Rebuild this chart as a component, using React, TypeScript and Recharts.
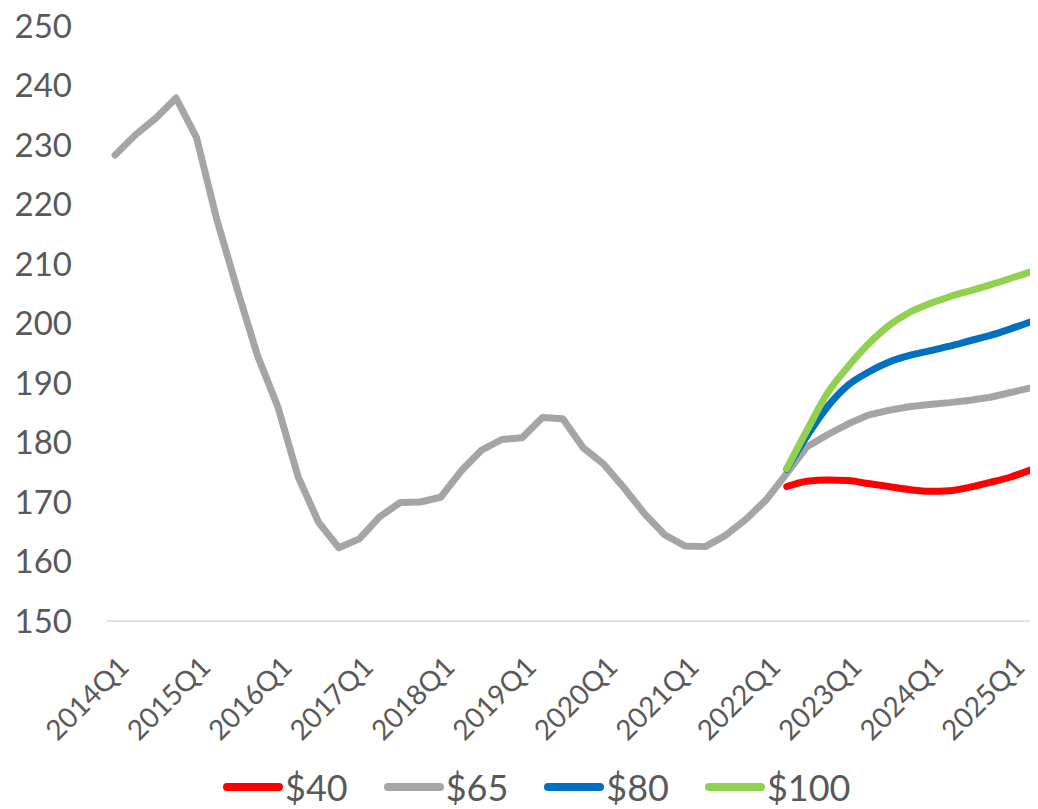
import { LineChart, Line, XAxis, YAxis, Legend } from "recharts";

const quarters = [
  "2014Q1", "2014Q2", "2014Q3", "2014Q4",
  "2015Q1", "2015Q2", "2015Q3", "2015Q4",
  "2016Q1", "2016Q2", "2016Q3", "2016Q4",
  "2017Q1", "2017Q2", "2017Q3", "2017Q4",
  "2018Q1", "2018Q2", "2018Q3", "2018Q4",
  "2019Q1", "2019Q2", "2019Q3", "2019Q4",
  "2020Q1", "2020Q2", "2020Q3", "2020Q4",
  "2021Q1", "2021Q2", "2021Q3", "2021Q4",
  "2022Q1", "2022Q2", "2022Q3", "2022Q4",
  "2023Q1", "2023Q2", "2023Q3", "2023Q4",
  "2024Q1", "2024Q2", "2024Q3", "2024Q4",
  "2025Q1", "2025Q2",
];

// history + the $65 path
const price65 = [
  228.3, 231.7, 234.5, 237.9, 231.3, 217.5, 205.8, 194.6,
  186.0, 174.2, 166.6, 162.3, 163.8, 167.5, 169.9, 170.0,
  170.8, 175.2, 178.7, 180.5, 180.8, 184.2, 184.0, 179.1,
  176.4, 172.4, 168.1, 164.5, 162.6, 162.5, 164.4, 167.1,
  170.4, 174.8, 179.3, 181.3, 183.1, 184.6, 185.4, 186.0,
  186.4, 186.7, 187.1, 187.6, 188.4, 189.2,
];

// scenarios start at 2022Q2
const FORECAST_START = 33;
const price40 = [172.6, 173.5, 173.7, 173.6, 173.1, 172.6, 172.1, 171.8, 171.9, 172.5, 173.3, 174.2, 175.4];
const price80 = [175.5, 181.1, 186.0, 189.6, 191.8, 193.5, 194.6, 195.4, 196.2, 197.1, 198.0, 199.1, 200.3];
const price100 = [175.6, 182.1, 188.3, 192.7, 196.5, 199.6, 201.8, 203.3, 204.5, 205.5, 206.5, 207.6, 208.7];

const yTicks = [150, 160, 170, 180, 190, 200, 210, 220, 230, 240, 250];

const FONT = "Lato, 'Open Sans', sans-serif";
const TEXT = "#595959";

const legendItems = [
  { name: "$40", color: "#FF0000" },
  { name: "$65", color: "#A5A5A5" },
  { name: "$80", color: "#0070C0" },
  { name: "$100", color: "#92D050" },
];

const scenario = (arr: number[], i: number) =>
  i >= FORECAST_START ? arr[i - FORECAST_START] : null;

const data = quarters.map((q, i) => ({
  q,
  p65: price65[i],
  p40: scenario(price40, i),
  p80: scenario(price80, i),
  p100: scenario(price100, i),
}));

function QuarterTick({ x, y, payload }: any) {
  return (
    <g transform={`translate(${x},${y})`}>
      <text
        x={8}
        y={38}
        textAnchor="end"
        dominantBaseline="central"
        transform="rotate(-45 8 38)"
        fill={TEXT}
        fontSize={28}
        fontFamily={FONT}
      >
        {payload.value}
      </text>
    </g>
  );
}

function LegendRow() {
  return (
    <div style={{ height: 56, display: "flex", paddingLeft: 215, paddingTop: 15, boxSizing: "border-box", fontFamily: FONT }}>
      {legendItems.map((it) => (
        <div key={it.name} style={{ display: "flex", alignItems: "center", marginRight: 36, whiteSpace: "nowrap", height: 38 }}>
          <svg width={60} height={12} style={{ marginRight: 2 }}>
            <line x1={4} y1={6} x2={56} y2={6} stroke={it.color} strokeWidth={8} strokeLinecap="round" />
          </svg>
          <span style={{ fontSize: 36, color: TEXT, lineHeight: "38px" }}>{it.name}</span>
        </div>
      ))}
    </div>
  );
}

export default function App() {
  return (
    <div style={{ marginTop: -8 }}>
      <LineChart width={1030} height={809} data={data} margin={{ top: 26, right: 0, left: 0, bottom: 0 }}>
        <XAxis
          dataKey="q"
          interval={3}
          padding={{ left: 8, right: 7 }}
          axisLine={{ stroke: "#D9D9D9", strokeWidth: 1.5 }}
          tickLine={false}
          tickSize={0}
          height={132}
          tick={<QuarterTick />}
        />
        <YAxis
          domain={[150, 250]}
          ticks={yTicks}
          width={99}
          axisLine={false}
          tickLine={false}
          tickSize={0}
          tickMargin={35}
          tick={{ fill: TEXT, fontSize: 33, fontFamily: FONT }}
        />
        <Legend verticalAlign="bottom" align="left" content={() => <LegendRow />} />
        <Line type="linear" dataKey="p65" stroke="#A5A5A5" strokeWidth={7} dot={false} activeDot={false} strokeLinecap="round" strokeLinejoin="round" isAnimationActive={false} />
        <Line type="monotone" dataKey="p40" stroke="#FF0000" strokeWidth={7} dot={false} activeDot={false} strokeLinecap="round" isAnimationActive={false} />
        <Line type="monotone" dataKey="p80" stroke="#0070C0" strokeWidth={7} dot={false} activeDot={false} strokeLinecap="round" isAnimationActive={false} />
        <Line type="monotone" dataKey="p100" stroke="#92D050" strokeWidth={7} dot={false} activeDot={false} strokeLinecap="round" isAnimationActive={false} />
      </LineChart>
    </div>
  );
}
